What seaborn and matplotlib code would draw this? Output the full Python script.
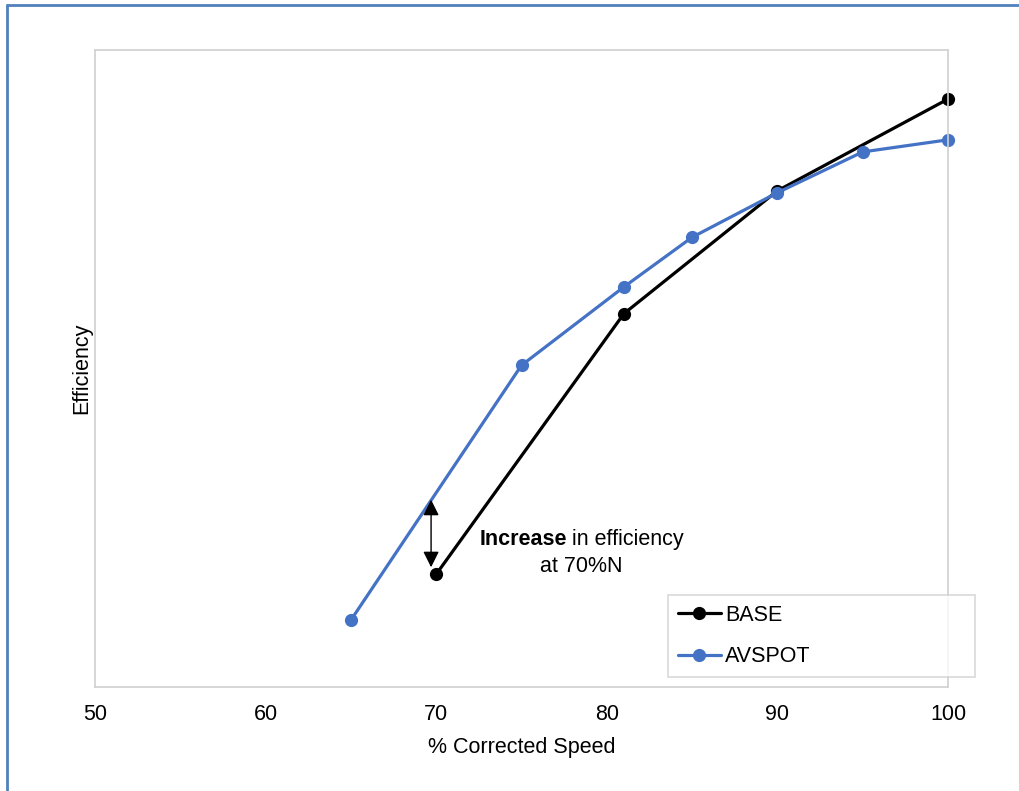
import matplotlib
matplotlib.use("Agg")
import matplotlib.pyplot as plt
from matplotlib.lines import Line2D
import seaborn as sns
import pandas as pd

# Data
base_x = [70, 81, 90, 100]
base_y = [17.7, 58.6, 77.9, 92.3]
avspot_x = [65, 75, 81, 85, 90, 95, 100]
avspot_y = [10.5, 50.5, 62.8, 70.6, 77.6, 84.0, 85.9]
series_names = ["BASE", "AVSPOT"]
x_ticks = [50, 60, 70, 80, 90, 100]
x_label = "% Corrected Speed"
y_label = "Efficiency"
arrow_x = 69.7
arrow_y = (29.4, 18.8)

df = pd.concat([
    pd.DataFrame({"speed": base_x, "eff": base_y, "series": series_names[0]}),
    pd.DataFrame({"speed": avspot_x, "eff": avspot_y, "series": series_names[1]}),
], ignore_index=True)

sns.set_theme(style="white")
plt.rcParams["font.family"] = ["Liberation Sans", "DejaVu Sans"]
plt.rcParams["text.color"] = "#000000"

FS = 15.5
fig = plt.figure(figsize=(10.19, 7.91), dpi=100)
ax = fig.add_axes([95 / 1019, 1 - 687 / 791, (948 - 95) / 1019, (687 - 50) / 791])

palette = {"BASE": "#000000", "AVSPOT": "#4472C4"}
sns.lineplot(data=df, x="speed", y="eff", hue="series", palette=palette,
             marker="o", markersize=9.5, markeredgewidth=0, linewidth=2.3,
             sort=False, ax=ax, legend=False)
for ln in ax.lines:
    ln.set_clip_on(False)

ax.set_xlim(50, 100)
ax.set_ylim(0, 100)
ax.set_xticks(x_ticks)
ax.set_xticklabels([str(t) for t in x_ticks])
ax.set_yticks([])
ax.tick_params(axis="x", length=0, pad=12, labelsize=FS, colors="#000000")
ax.set_xlabel(x_label, fontsize=FS, labelpad=9, color="#000000")
ax.set_ylabel(y_label, fontsize=FS, labelpad=2, color="#000000")
for s in ax.spines.values():
    s.set_color("#D0D0D0")
    s.set_linewidth(1.2)

# Arrow annotation
ax.annotate("", xy=(arrow_x, arrow_y[1]), xytext=(arrow_x, arrow_y[0]),
            arrowprops=dict(arrowstyle="<|-|>", color="black", lw=1.0,
                            mutation_scale=24, shrinkA=0, shrinkB=0))
ax.text(77.65, 22.3, "Increase", ha="right", va="baseline", fontsize=FS,
        fontweight="bold", color="#000000")
ax.text(77.95, 22.3, "in efficiency", ha="left", va="baseline", fontsize=FS,
        color="#000000")
ax.text(78.5, 18.1, "at 70%N", ha="center", va="baseline", fontsize=FS,
        color="#000000")

# Legend
handles = [Line2D([0], [0], color=palette[n], marker="o", markersize=9.5,
                  markeredgewidth=0, linewidth=2.3) for n in series_names]
leg = fig.legend(handles, series_names, loc="upper left",
                 bbox_to_anchor=(668 / 1019, 1 - 678 / 791, (975 - 668) / 1019, (678 - 595) / 791),
                 mode="expand", fontsize=FS, frameon=True, fancybox=False,
                 edgecolor="#D0D0D0", handlelength=2.0, handletextpad=0.2,
                 labelspacing=0.95, borderpad=0.45, borderaxespad=0)
leg.get_frame().set_linewidth(1.2)
for t in leg.get_texts():
    t.set_color("#000000")

# Figure border (blue, cropped at right/bottom)
fig.add_artist(Line2D([6.5 / 1019, 6.5 / 1019], [0, 1 - 5 / 791], transform=fig.transFigure,
                      color="#4F81BD", linewidth=2))
fig.add_artist(Line2D([6.5 / 1019, 1], [1 - 5 / 791, 1 - 5 / 791], transform=fig.transFigure,
                      color="#4F81BD", linewidth=2))

fig.savefig("out.png", dpi=100)
